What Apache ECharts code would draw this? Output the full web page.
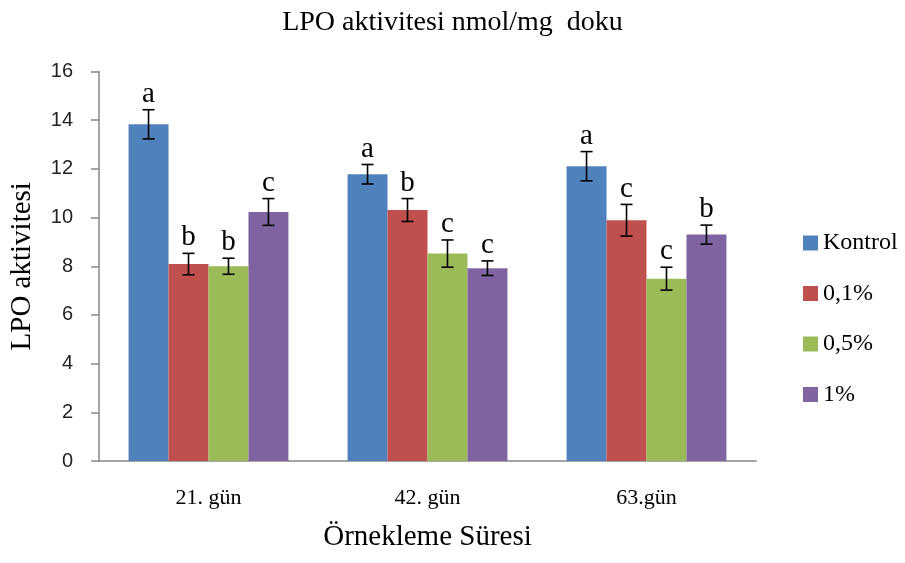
<!DOCTYPE html>
<html><head><meta charset="utf-8">
<script src="https://cdn.jsdelivr.net/npm/echarts@6/dist/echarts.min.js"></script>
<style>html,body{margin:0;padding:0;background:#fff}#c{width:905px;height:563px}</style>
</head><body><div id="c"></div>
<script>
// ---- data ----
const categories = ['21. gün', '42. gün', '63.gün'];
const seriesNames = ['Kontrol', '0,1%', '0,5%', '1%'];
const kontrol = [13.83, 11.78, 12.11];
const p01 = [8.09, 10.31, 9.89];
const p05 = [8.00, 8.52, 7.49];
const p1 = [10.23, 7.92, 9.30];
const errKontrol = [0.60, 0.40, 0.60];
const errP01 = [0.44, 0.47, 0.65];
const errP05 = [0.33, 0.56, 0.47];
const errP1 = [0.55, 0.30, 0.39];
const lettersKontrol = ['a', 'a', 'a'];
const lettersP01 = ['b', 'b', 'c'];
const lettersP05 = ['b', 'c', 'c'];
const lettersP1 = ['c', 'c', 'b'];
const yTicks = [0, 2, 4, 6, 8, 10, 12, 14, 16];

// ---- build ----
const values = [kontrol, p01, p05, p1];
const errors = [errKontrol, errP01, errP05, errP1];
const letters = [lettersKontrol, lettersP01, lettersP05, lettersP1];
const colors = ['#4F81BD', '#C0504D', '#9BBB59', '#8064A2'];
const CAT_GAP = 0.27;
const SERIF = '"Liberation Serif", "Times New Roman", serif';

const errData = [];
values.forEach((arr, s) => arr.forEach((v, c) => errData.push([c, s, v, errors[s][c]])));

const chart = echarts.init(document.getElementById('c'));
const barSeries = seriesNames.map((n, s) => ({
  name: n, type: 'bar', data: values[s],
  barGap: '0%', barCategoryGap: (CAT_GAP * 100) + '%',
  itemStyle: { color: colors[s] }
}));

chart.setOption({
  animation: false,
  title: {
    text: 'LPO aktivitesi nmol/mg  doku', left: 'center', top: 4,
    textStyle: { fontFamily: SERIF, fontSize: 28, fontWeight: 'normal', color: '#000' }
  },
  legend: {
    data: seriesNames, orient: 'vertical', left: 798, top: 226,
    itemWidth: 15, itemHeight: 15, itemGap: 26.5, icon: 'rect',
    textStyle: { fontFamily: SERIF, fontSize: 24, lineHeight: 24, color: '#000' }
  },
  grid: { left: 99, right: 149, top: 71.5, bottom: 102 },
  xAxis: {
    type: 'category', data: categories,
    name: 'Örnekleme Süresi', nameLocation: 'middle', nameGap: 62,
    nameTextStyle: { fontFamily: SERIF, fontSize: 29, color: '#000' },
    axisLine: { lineStyle: { color: '#868686', width: 1.5 } },
    axisTick: { show: false },
    axisLabel: { fontFamily: SERIF, fontSize: 22, color: '#000', margin: 26 }
  },
  yAxis: {
    type: 'value', min: yTicks[0], max: yTicks[yTicks.length - 1], interval: yTicks[1] - yTicks[0],
    name: 'LPO aktivitesi', nameLocation: 'middle', nameGap: 62,
    nameTextStyle: { fontFamily: SERIF, fontSize: 29, color: '#000' },
    axisLine: { show: true, lineStyle: { color: '#868686', width: 1.5 } },
    axisTick: { show: true, length: 8, lineStyle: { color: '#868686', width: 1.5 } },
    splitLine: { show: false },
    axisLabel: { fontFamily: '"Liberation Sans", Arial, sans-serif', fontSize: 20, color: '#222', margin: 26 }
  },
  series: barSeries.concat([{
    name: 'err', type: 'custom', data: errData, z: 10,
    encode: { x: 0, y: 2 },
    renderItem: function (params, api) {
      const c = api.value(0), s = api.value(1), v = api.value(2), e = api.value(3);
      const band = api.size([1, 0])[0];
      const bw = band * (1 - CAT_GAP) / 4;
      const off = (s - 1.5) * bw;
      const top = api.coord([c, v + e]);
      const bot = api.coord([c, v - e]);
      const x = top[0] + off;
      const hw = 6;
      const ls = { stroke: '#000', lineWidth: 1.6 };
      return {
        type: 'group',
        children: [
          { type: 'line', shape: { x1: x, y1: top[1], x2: x, y2: bot[1] }, style: ls },
          { type: 'line', shape: { x1: x - hw, y1: top[1], x2: x + hw, y2: top[1] }, style: ls },
          { type: 'line', shape: { x1: x - hw, y1: bot[1], x2: x + hw, y2: bot[1] }, style: ls },
          { type: 'text', style: { text: letters[s][c], x: x, y: top[1] - 1, textAlign: 'center', textVerticalAlign: 'bottom', font: '29px ' + SERIF, fill: '#000' } }
        ]
      };
    }
  }])
});
</script></body></html>
